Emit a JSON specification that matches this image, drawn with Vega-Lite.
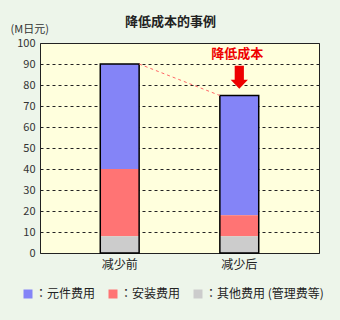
{
  "$schema": "https://vega.github.io/schema/vega-lite/v6.json",
  "width": 279,
  "height": 210,
  "autosize": {"type": "none"},
  "padding": {"left": 40, "top": 43, "right": 21, "bottom": 67},
  "background": "#edf5ea",
  "config": {
    "font": "Noto Sans CJK JP",
    "view": {"fill": "#ffffdd", "stroke": "#222222", "strokeWidth": 1}
  },
  "title": {
    "text": "降低成本的事例",
    "fontSize": 13,
    "fontWeight": "bold",
    "color": "#222222",
    "anchor": "middle",
    "dx": -9,
    "offset": -6
  },
  "datasets": {
    "costs": [
      {"case": "减少前", "part": "元件费用", "ord": 3, "value": 50},
      {"case": "减少前", "part": "安装费用", "ord": 2, "value": 32},
      {"case": "减少前", "part": "其他费用 (管理费等)", "ord": 1, "value": 8},
      {"case": "减少后", "part": "元件费用", "ord": 3, "value": 57},
      {"case": "减少后", "part": "安装费用", "ord": 2, "value": 10},
      {"case": "减少后", "part": "其他费用 (管理费等)", "ord": 1, "value": 8}
    ],
    "link": [{"from": "减少前", "to": "减少后", "y1": 90, "y2": 75}],
    "note": [{"case": "减少后", "label": "降低成本", "textY": 95, "arrowY": 83.7}]
  },
  "encoding": {
    "x": {
      "field": "case",
      "type": "nominal",
      "scale": {"domain": ["减少前", "减少后"], "paddingInner": 0.675, "paddingOuter": 0.504},
      "axis": {"title": null, "labelAngle": 0, "ticks": false, "domain": false, "labelFontSize": 12, "labelColor": "#222222", "labelPadding": 6}
    }
  },
  "layer": [
    {
      "data": {"name": "costs"},
      "mark": {"type": "bar"},
      "encoding": {
        "y": {
          "field": "value",
          "type": "quantitative",
          "stack": "zero",
          "scale": {"domain": [0, 100], "nice": false},
          "axis": {"values": [0, 10, 20, 30, 40, 50, 60, 70, 80, 90, 100], "labelOverlap": false, "grid": true, "gridColor": "#222222", "gridDash": [3, 3], "gridWidth": 1, "ticks": false, "domain": false, "labelFontSize": 11, "labelColor": "#333333", "labelPadding": 5, "title": "(M日元)", "titleAngle": 0, "titleAlign": "left", "titleBaseline": "bottom", "titleX": -30, "titleY": -9, "titleFontSize": 11, "titleFontWeight": "normal", "titleColor": "#333333"}
        },
        "color": {
          "field": "part",
          "type": "nominal",
          "scale": {
            "domain": ["元件费用", "安装费用", "其他费用 (管理费等)"],
            "range": ["#8484f7", "#ff7474", "#cccccc"]
          },
          "legend": {
            "title": null,
            "orient": "none",
            "legendX": -18,
            "legendY": 245,
            "direction": "horizontal",
            "symbolType": "square",
            "symbolSize": 81,
            "symbolStrokeWidth": 0,
            "labelFontSize": 12,
            "labelColor": "#222222",
            "labelOffset": 1,
            "columnPadding": 11,
            "labelExpr": "'：' + datum.label"
          }
        },
        "order": {"field": "ord", "type": "quantitative"}
      }
    },
    {
      "data": {"name": "costs"},
      "mark": {"type": "bar", "fill": null, "fillOpacity": 0, "stroke": "#000000", "strokeWidth": 1.5},
      "encoding": {
        "y": {"aggregate": "sum", "field": "value", "type": "quantitative",
          "axis": {"values": [0, 10, 20, 30, 40, 50, 60, 70, 80, 90, 100], "labelOverlap": false, "grid": true, "gridColor": "#222222", "gridDash": [3, 3], "gridWidth": 1, "ticks": false, "domain": false, "labelFontSize": 11, "labelColor": "#333333", "labelPadding": 5, "title": "(M日元)", "titleAngle": 0, "titleAlign": "left", "titleBaseline": "bottom", "titleX": -30, "titleY": -9, "titleFontSize": 11, "titleFontWeight": "normal", "titleColor": "#333333"}}
      }
    },
    {
      "data": {"name": "link"},
      "mark": {"type": "rule", "color": "#ff6666", "strokeDash": [3, 3], "strokeWidth": 1},
      "encoding": {
        "x": {"field": "from", "type": "nominal", "bandPosition": 1},
        "x2": {"field": "to", "bandPosition": 0},
        "y": {"field": "y1", "type": "quantitative",
          "axis": {"values": [0, 10, 20, 30, 40, 50, 60, 70, 80, 90, 100], "labelOverlap": false, "grid": true, "gridColor": "#222222", "gridDash": [3, 3], "gridWidth": 1, "ticks": false, "domain": false, "labelFontSize": 11, "labelColor": "#333333", "labelPadding": 5, "title": "(M日元)", "titleAngle": 0, "titleAlign": "left", "titleBaseline": "bottom", "titleX": -30, "titleY": -9, "titleFontSize": 11, "titleFontWeight": "normal", "titleColor": "#333333"}},
        "y2": {"field": "y2"}
      }
    },
    {
      "data": {"name": "note"},
      "mark": {
        "type": "point",
        "shape": "M-0.4,-1L0.4,-1L0.4,0.22L0.75,0.22L0,1L-0.75,0.22L-0.4,0.22Z",
        "filled": true,
        "fill": "#ee0000",
        "strokeWidth": 0,
        "size": 529,
        "opacity": 1
      },
      "encoding": {
        "y": {"field": "arrowY", "type": "quantitative",
          "axis": {"values": [0, 10, 20, 30, 40, 50, 60, 70, 80, 90, 100], "labelOverlap": false, "grid": true, "gridColor": "#222222", "gridDash": [3, 3], "gridWidth": 1, "ticks": false, "domain": false, "labelFontSize": 11, "labelColor": "#333333", "labelPadding": 5, "title": "(M日元)", "titleAngle": 0, "titleAlign": "left", "titleBaseline": "bottom", "titleX": -30, "titleY": -9, "titleFontSize": 11, "titleFontWeight": "normal", "titleColor": "#333333"}}
      }
    },
    {
      "data": {"name": "note"},
      "mark": {"type": "text", "fontSize": 13, "fontWeight": "bold", "color": "#ee0000", "baseline": "middle", "dx": -2},
      "encoding": {
        "y": {"field": "textY", "type": "quantitative",
          "axis": {"values": [0, 10, 20, 30, 40, 50, 60, 70, 80, 90, 100], "labelOverlap": false, "grid": true, "gridColor": "#222222", "gridDash": [3, 3], "gridWidth": 1, "ticks": false, "domain": false, "labelFontSize": 11, "labelColor": "#333333", "labelPadding": 5, "title": "(M日元)", "titleAngle": 0, "titleAlign": "left", "titleBaseline": "bottom", "titleX": -30, "titleY": -9, "titleFontSize": 11, "titleFontWeight": "normal", "titleColor": "#333333"}},
        "text": {"field": "label"}
      }
    }
  ]
}
